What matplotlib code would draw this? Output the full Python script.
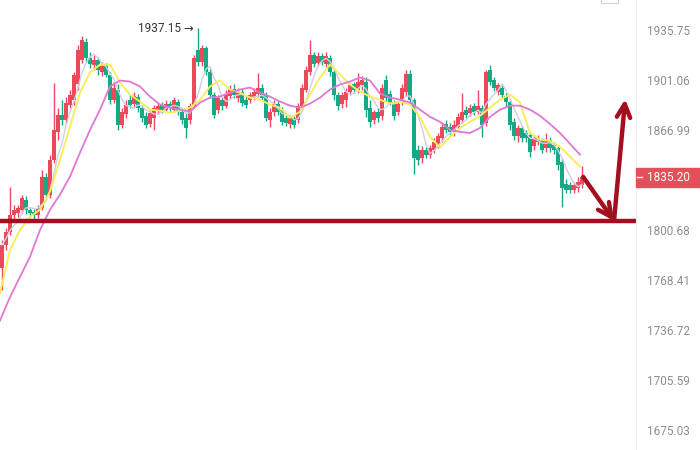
import numpy as np
import pandas as pd
import matplotlib
matplotlib.use("Agg")
import matplotlib.pyplot as plt
from matplotlib.patches import Rectangle
from matplotlib.ticker import FixedLocator, NullLocator, FixedFormatter

# candle data (prices), one candle per bar
opens = [1776.2, 1791.0, 1799.4, 1810.6, 1811.9, 1813.9, 1820.6, 1813.9, 1812.6, 1810.6,
         1815.3, 1835.2, 1823.9, 1847.1, 1865.7, 1877.3, 1873.9, 1884.2, 1887.6, 1898.0,
         1915.1, 1927.5, 1916.5, 1911.7, 1915.1, 1906.9, 1911.0, 1904.8, 1887.6, 1894.5,
         1870.4, 1878.0, 1887.6, 1884.9, 1889.7, 1882.1, 1876.6, 1871.1, 1875.3, 1880.8,
         1884.2, 1880.8, 1884.9, 1880.8, 1886.3, 1879.4, 1875.3, 1873.9, 1883.5, 1922.0,
         1913.8, 1923.4, 1906.9, 1891.1, 1880.8, 1887.6, 1883.5, 1890.4, 1895.2, 1889.0,
         1893.1, 1887.6, 1887.6, 1889.7, 1891.8, 1895.9, 1891.1, 1873.9, 1879.4, 1884.9,
         1880.8, 1875.3, 1871.1, 1875.3, 1873.9, 1883.5, 1894.5, 1906.9, 1918.6, 1913.1,
         1917.9, 1912.4, 1916.5, 1906.9, 1891.1, 1884.9, 1887.6, 1893.1, 1898.0, 1894.5,
         1897.3, 1900.0, 1882.1, 1873.9, 1879.4, 1876.6, 1901.4, 1891.8, 1886.3, 1879.4,
         1886.3, 1893.1, 1905.5, 1887.6, 1853.7, 1848.4, 1853.7, 1850.4, 1853.7, 1857.7,
         1861.7, 1871.1, 1869.1, 1865.7, 1869.1, 1873.9, 1880.8, 1878.7, 1883.5, 1879.4,
         1882.1, 1871.8, 1908.3, 1901.4, 1893.1, 1895.9, 1890.4, 1886.3, 1872.5, 1863.0,
         1868.4, 1865.0, 1863.7, 1856.4, 1859.0, 1860.4, 1855.1, 1860.4, 1857.1, 1855.1,
         1845.8, 1831.2, 1829.9, 1827.2, 1828.5, 1829.9]
closes = [1791.0, 1799.4, 1810.6, 1813.9, 1815.3, 1821.9, 1813.9, 1811.9, 1810.6, 1815.3,
          1835.2, 1823.9, 1847.1, 1867.0, 1877.3, 1873.9, 1885.6, 1891.1, 1904.8, 1922.0,
          1928.9, 1916.5, 1912.4, 1915.1, 1908.3, 1911.0, 1904.8, 1887.6, 1895.9, 1870.4,
          1879.4, 1884.2, 1884.2, 1890.4, 1882.1, 1875.3, 1870.4, 1878.7, 1882.1, 1883.5,
          1880.8, 1884.9, 1882.1, 1887.6, 1879.4, 1873.9, 1868.4, 1883.5, 1916.5, 1913.8,
          1923.4, 1906.9, 1891.1, 1877.3, 1889.0, 1883.5, 1891.8, 1895.2, 1891.1, 1893.1,
          1885.6, 1884.2, 1891.1, 1893.1, 1895.9, 1889.0, 1875.3, 1879.4, 1884.9, 1879.4,
          1872.5, 1871.8, 1875.3, 1870.4, 1883.5, 1895.9, 1908.3, 1918.6, 1912.4, 1917.9,
          1913.8, 1917.9, 1906.9, 1891.1, 1883.5, 1891.1, 1893.1, 1897.3, 1894.5, 1900.0,
          1901.4, 1880.8, 1872.5, 1879.4, 1875.3, 1895.9, 1889.0, 1886.3, 1876.6, 1884.9,
          1895.9, 1905.5, 1887.6, 1848.4, 1847.1, 1853.7, 1850.4, 1855.1, 1859.0, 1863.0,
          1869.1, 1867.0, 1865.7, 1870.4, 1875.9, 1879.4, 1877.3, 1882.1, 1879.4, 1883.5,
          1870.4, 1906.9, 1900.0, 1895.9, 1897.3, 1891.1, 1886.3, 1870.4, 1863.0, 1868.4,
          1861.7, 1861.7, 1852.4, 1861.7, 1861.7, 1853.7, 1860.4, 1855.1, 1853.7, 1843.8,
          1828.5, 1827.2, 1827.2, 1830.5, 1832.5, 1835.2]
highs = [1794.2, 1802.0, 1829.2, 1817.3, 1817.3, 1823.9, 1823.2, 1815.3, 1814.6, 1817.3,
         1840.5, 1838.5, 1850.4, 1899.3, 1882.1, 1887.6, 1889.7, 1894.5, 1906.9, 1925.4,
         1931.6, 1930.3, 1920.6, 1918.6, 1917.2, 1913.8, 1913.1, 1906.9, 1900.0, 1898.0,
         1882.1, 1887.6, 1891.1, 1893.1, 1891.8, 1884.2, 1879.4, 1880.8, 1884.2, 1885.6,
         1886.3, 1887.6, 1886.9, 1889.7, 1888.3, 1880.8, 1878.7, 1885.6, 1918.6, 1937.15,
         1925.4, 1924.8, 1909.6, 1893.1, 1891.1, 1889.7, 1894.5, 1897.3, 1898.0, 1895.9,
         1895.2, 1890.4, 1893.1, 1895.9, 1906.2, 1898.0, 1893.1, 1882.1, 1887.6, 1886.9,
         1882.8, 1877.3, 1877.3, 1876.6, 1885.6, 1898.0, 1911.0, 1928.9, 1920.6, 1920.6,
         1919.9, 1920.6, 1918.6, 1908.3, 1893.1, 1893.1, 1895.9, 1899.3, 1900.0, 1906.2,
         1904.1, 1902.8, 1887.6, 1880.8, 1882.1, 1898.0, 1904.8, 1894.5, 1887.6, 1886.9,
         1898.6, 1908.3, 1908.3, 1889.0, 1857.1, 1856.4, 1855.7, 1857.1, 1861.7, 1865.0,
         1872.5, 1873.9, 1871.8, 1873.9, 1878.7, 1892.4, 1883.5, 1884.9, 1885.6, 1894.5,
         1884.2, 1908.3, 1911.7, 1903.4, 1899.3, 1898.0, 1892.4, 1887.6, 1875.3, 1870.4,
         1869.8, 1867.0, 1865.7, 1863.7, 1863.7, 1861.7, 1865.0, 1862.4, 1859.0, 1857.1,
         1848.4, 1833.9, 1831.9, 1832.5, 1835.2, 1843.1]
lows = [1762.1, 1787.8, 1797.5, 1807.3, 1809.3, 1811.9, 1811.3, 1809.3, 1808.0, 1808.6,
        1813.9, 1821.9, 1821.9, 1845.1, 1860.4, 1870.4, 1871.8, 1882.1, 1884.2, 1894.5,
        1913.1, 1913.8, 1909.6, 1908.3, 1904.8, 1904.1, 1902.8, 1884.9, 1885.6, 1867.0,
        1868.4, 1875.3, 1882.1, 1882.8, 1879.4, 1872.5, 1868.4, 1869.1, 1867.0, 1878.0,
        1878.7, 1879.4, 1880.1, 1879.4, 1877.3, 1871.1, 1861.7, 1871.1, 1882.1, 1911.0,
        1911.0, 1904.8, 1889.0, 1875.3, 1878.7, 1880.8, 1882.1, 1888.3, 1889.0, 1886.3,
        1883.5, 1882.1, 1885.6, 1887.6, 1889.7, 1886.9, 1873.2, 1869.1, 1876.6, 1877.3,
        1870.4, 1869.8, 1868.4, 1868.4, 1871.8, 1881.4, 1893.1, 1904.8, 1910.3, 1911.0,
        1911.7, 1910.3, 1904.1, 1887.6, 1880.8, 1882.1, 1882.8, 1891.1, 1892.4, 1892.4,
        1894.5, 1875.9, 1869.1, 1871.1, 1872.5, 1873.9, 1886.3, 1884.2, 1873.9, 1877.3,
        1884.2, 1890.4, 1884.9, 1837.2, 1843.8, 1845.1, 1848.4, 1848.4, 1851.8, 1855.1,
        1859.0, 1865.0, 1863.7, 1863.0, 1867.0, 1871.8, 1875.3, 1876.6, 1877.3, 1878.0,
        1862.4, 1869.8, 1897.3, 1893.8, 1891.1, 1889.0, 1883.5, 1867.0, 1860.4, 1859.0,
        1859.0, 1859.0, 1849.1, 1853.7, 1857.1, 1851.8, 1852.4, 1852.4, 1851.1, 1840.5,
        1815.9, 1824.6, 1825.2, 1825.2, 1825.9, 1827.9]

# moving average lines, one value every 2.5 bars
ma_yellow = [1760.1, 1787.8, 1800.7, 1809.3, 1813.9, 1825.9, 1847.1, 1869.1, 1892.4, 1906.2,
             1911.7, 1911.7, 1899.3, 1891.1, 1886.3, 1880.8, 1880.1, 1878.7, 1880.1, 1882.1,
             1887.6, 1896.6, 1900.7, 1894.5, 1892.4, 1889.0, 1887.6, 1884.2, 1882.1, 1875.3,
             1879.4, 1891.1, 1902.8, 1911.7, 1904.8, 1898.0, 1893.1, 1889.7, 1887.6, 1884.9,
             1886.3, 1884.2, 1875.9, 1862.4, 1855.1, 1862.4, 1868.4, 1872.5, 1876.6, 1882.1,
             1887.6, 1891.1, 1885.6, 1865.0, 1860.4, 1859.7, 1855.7, 1849.1, 1842.4]
ma_pink = [1742.6, 1757.5, 1770.4, 1783.3, 1800.7, 1813.9, 1823.9, 1835.8, 1851.8, 1867.0,
           1880.8, 1896.6, 1900.7, 1900.0, 1896.6, 1889.7, 1884.2, 1882.1, 1880.8, 1879.4,
           1885.6, 1889.0, 1889.7, 1892.4, 1894.5, 1895.9, 1892.4, 1889.7, 1886.3, 1883.5,
           1882.1, 1884.9, 1889.0, 1894.5, 1898.0, 1900.0, 1902.8, 1900.7, 1891.8, 1889.0,
           1887.6, 1885.6, 1880.8, 1875.9, 1872.5, 1867.0, 1865.7, 1865.0, 1868.4, 1875.9,
           1880.8, 1883.5, 1883.5, 1880.8, 1876.6, 1871.1, 1865.0, 1857.7, 1850.4]

y_ticks = [1935.75, 1901.06, 1866.99, 1800.68, 1768.41, 1736.72, 1705.59, 1675.03]
last_price = 1835.20
support = 1806.6
target = 1888.0
high_label = "1937.15 →"

UP = "#ec4a58"
DOWN = "#16a985"
DARKRED = "#a30f1f"

o = np.array(opens)
c = np.array(closes)
h = np.array(highs)
l = np.array(lows)
x = np.arange(len(o))
colors = np.where(c >= o, UP, DOWN)

fig = plt.figure(figsize=(7, 4.5), dpi=100)
ax = fig.add_axes([0, 0, 636 / 700, 1])
ax.set_yscale("log")
ax.set_xlim(-0.5, 158.5)
ax.set_ylim(1662.9, 1956.9)

# candles
ax.vlines(x, l, h, colors=colors, lw=1.0, zorder=3)
bottom = np.minimum(o, c)
height = np.maximum(np.abs(c - o), 0.5)
ax.bar(x, height, bottom=bottom, width=0.8, color=colors, lw=0, zorder=4)

# moving averages
ma_x = np.arange(len(ma_yellow)) * 2.5 - 0.5
gray = pd.Series(closes).rolling(5, min_periods=1).mean()
ax.plot(x, gray, color="#cfd0e8", lw=1.0, zorder=5)
ax.plot(ma_x, ma_yellow, color="#f7ee5e", lw=1.4, zorder=5)
ax.plot(ma_x, ma_pink, color="#df78d6", lw=1.3, zorder=5)
ax.set_ylim(1662.9, 1956.9)

# support line and arrows
ax.plot([-0.5, 158.5], [support, support], color=DARKRED, lw=3.2, zorder=6,
        solid_capstyle="butt")
arrow = dict(arrowstyle="->", lw=3.2, color=DARKRED, mutation_scale=24, shrinkA=0, shrinkB=0)
ax.annotate("", xy=(153, support), xytext=(145.3, 1835.6), xycoords="data",
            arrowprops=arrow, zorder=7)
ax.annotate("", xy=(155.8, target), xytext=(153, support), xycoords="data",
            arrowprops=arrow, zorder=7)

# highest price label
ax.annotate(high_label, xy=(49, 1937.15), xytext=(-3, 0), textcoords="offset points",
            ha="right", va="center", fontsize=8.5, color="#333333",
            family=["Roboto", "DejaVu Sans"])

# right price axis
ax.yaxis.tick_right()
ax.yaxis.set_major_locator(FixedLocator(y_ticks))
ax.yaxis.set_major_formatter(FixedFormatter(["%.2f" % v for v in y_ticks]))
ax.yaxis.set_minor_locator(NullLocator())
ax.tick_params(axis="y", length=0, pad=8, labelsize=8.5, labelcolor="#8e8e8e")
for lab in ax.get_yticklabels():
    lab.set_family("Roboto")
ax.set_xticks([])
for s in ["top", "left", "bottom"]:
    ax.spines[s].set_visible(False)
ax.spines["right"].set_color("#f0f0f0")

# current price tag
yt = ax.get_yaxis_transform()
ax.add_patch(Rectangle((1.0, last_price / 1.0036), 64 / 636, last_price * 1.0036 - last_price / 1.0036,
                       transform=yt, color="#e4505a", clip_on=False, zorder=8))
ax.plot([1.002, 1.009], [last_price, last_price], transform=yt, color="white", lw=1,
        clip_on=False, zorder=9, scalex=False, scaley=False)
ax.text(1.0 + 11 / 636, last_price, "%.2f" % last_price, transform=yt, color="white",
        fontsize=8.5, va="center", ha="left", family="Roboto", zorder=9)

# small box top right
fig.patches.append(Rectangle((601 / 700, 1 - 3 / 450), 17 / 700, 0.03, transform=fig.transFigure,
                             fc="white", ec="#d0d0d0", lw=0.8))

fig.savefig("out.png", dpi=100)
